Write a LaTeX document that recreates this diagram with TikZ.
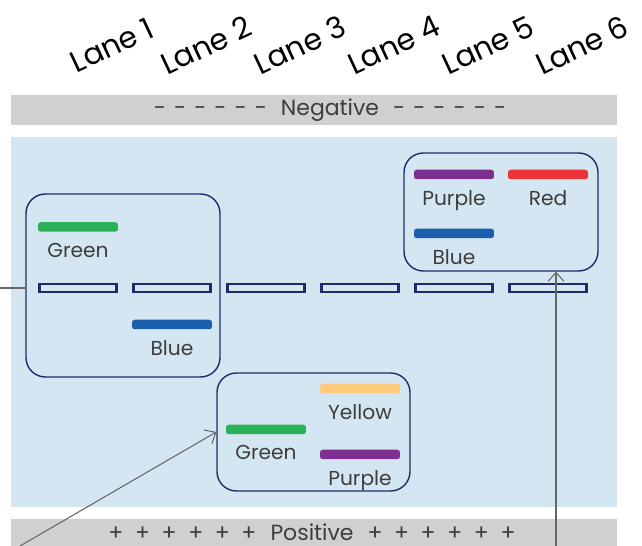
\documentclass[tikz,border=0pt]{standalone}
\usepackage{fontspec}
\setmainfont{Poppins}
\usetikzlibrary{arrows.meta,positioning}
\definecolor{gelblue}{HTML}{D4E6F1}
\definecolor{buffergray}{HTML}{D0D0D0}
\definecolor{wellnavy}{HTML}{1F2B6C}
\definecolor{txtgray}{HTML}{3D3D3D}
\definecolor{dnagreen}{HTML}{2BB05A}
\definecolor{dnablue}{HTML}{1B5EAB}
\definecolor{dnapurple}{HTML}{7D2F90}
\definecolor{dnared}{HTML}{EE3338}
\definecolor{dnayellow}{HTML}{FDCB7B}
\tikzset{
  well/.style={draw=wellnavy,line width=1.7pt,fill=gelblue,inner sep=0pt,
    minimum width=1.54cm,minimum height=0.16cm},
  dna/.style={inner sep=0pt,minimum width=1.6cm,minimum height=0.19cm,rounded corners=1.5pt},
  lbl/.style={text=txtgray,font=\fontsize{11.5}{13}\selectfont,inner sep=0pt},
  buffer/.style={text=txtgray,font=\fontsize{12.5}{14}\selectfont,inner sep=0pt},
  lanename/.style={text=black,font=\fontsize{17}{20}\selectfont,rotate=25,inner sep=0pt},
  group/.style={draw=wellnavy,line width=0.8pt,rounded corners=11pt,inner sep=0pt},
  pointer/.style={draw=black!60,line width=0.6pt,-{Straight Barb[length=5pt,width=9pt]}},
}
\newcommand\neggap{\hspace{4.6pt}}
\newcommand\posgap{\hspace{6.6pt}}
\begin{document}
\begin{tikzpicture}[x=0.02cm,y=-0.02cm]
  \useasboundingbox (0,0) rectangle (642,546);
  % buffer and gel
  \fill[buffergray] (11,95) rectangle (617,125);
  \fill[gelblue] (11,137) rectangle (617,507);
  \fill[buffergray] (11,519) rectangle (617,546);
  \node[buffer] (neg) at (330,110) {-\neggap-\neggap-\neggap-\neggap-\neggap-\hspace{8pt}Negative\hspace{8pt}-\neggap-\neggap-\neggap-\neggap-\neggap-};
  \node[buffer] (pos) at (312,532) {+\posgap+\posgap+\posgap+\posgap+\posgap+\hspace{8pt}Positive\hspace{8pt}+\posgap+\posgap+\posgap+\posgap+\posgap+};
  % wells
  \foreach \i in {1,...,6} {
    \node[well] (well\i) at (78+94*\i-94,288) {};
    \node[lanename] (lane\i) at (112+94*\i-94,45) {Lane \i};
  }
  % groups
  \node[group,minimum width=3.88cm,minimum height=3.66cm] (grp1) at (123,285.5) {};
  \node[group,minimum width=3.86cm,minimum height=2.36cm] (grp2) at (313.5,432) {};
  \node[group,minimum width=3.88cm,minimum height=2.36cm] (grp3) at (501,212) {};
  % bands
  \node[dna,fill=dnagreen] (green1) at (78,227) {};
  \node[lbl,below=6pt of green1] (green1txt) {Green};
  \node[dna,fill=dnablue] (blue1) at (172,324.5) {};
  \node[lbl,below=6pt of blue1] (blue1txt) {Blue};
  \node[dna,fill=dnayellow] (yellow2) at (360,388.5) {};
  \node[lbl,below=6pt of yellow2] (yellow2txt) {Yellow};
  \node[dna,fill=dnagreen] (green2) at (266,429.5) {};
  \node[lbl,below=6pt of green2] (green2txt) {Green};
  \node[dna,fill=dnapurple] (purple2) at (360,454.5) {};
  \node[lbl,below=6pt of purple2] (purple2txt) {Purple};
  \node[dna,fill=dnapurple] (purple3) at (454,174.5) {};
  \node[lbl,below=6pt of purple3] (purple3txt) {Purple};
  \node[dna,fill=dnared] (red3) at (548,174.5) {};
  \node[lbl,below=6pt of red3] (red3txt) {Red};
  \node[dna,fill=dnablue] (blue3) at (454,233.5) {};
  \node[lbl,below=6pt of blue3] (blue3txt) {Blue};
  % pointers
  \coordinate (srcA) at (0,288);
  \coordinate (srcB) at (20,546);
  \coordinate (srcC) at (556,546);
  \draw[black!60,line width=0.6pt] (srcA) -- (srcA -| grp1.west);
  \draw[pointer] (srcB) -- (grp2.west);
  \draw[pointer] (srcC) -- (srcC |- grp3.south);
\end{tikzpicture}
\end{document}
